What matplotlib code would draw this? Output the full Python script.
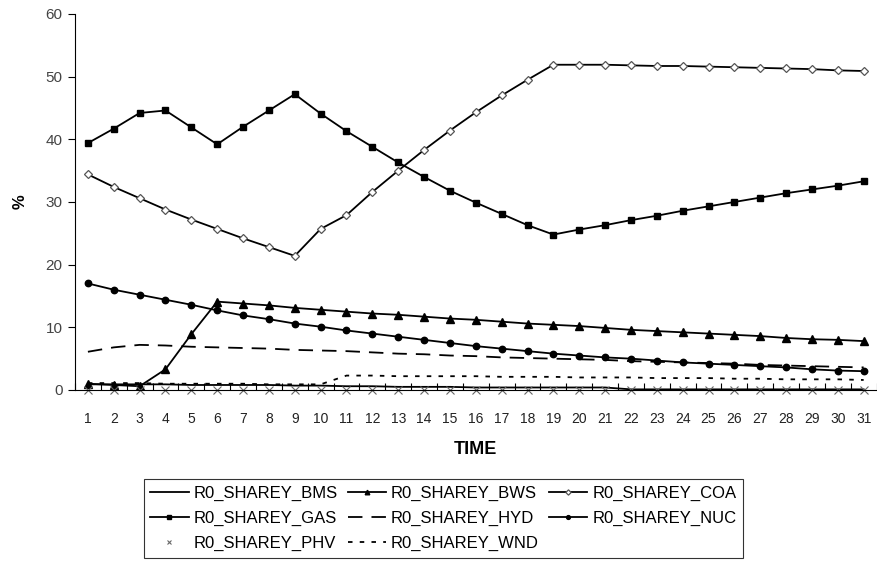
import numpy as np
import matplotlib
matplotlib.use('Agg')
import matplotlib.pyplot as plt

#%% data
time = list(range(1, 32))

bms = [0.9, 0.9, 0.9, 0.9, 0.8, 0.8, 0.8, 0.8, 0.7, 0.7, 0.6, 0.6, 0.5, 0.5, 0.5,
       0.4, 0.4, 0.4, 0.4, 0.4, 0.4, 0.1, 0.1, 0.1, 0.1, 0.1, 0.1, 0.1, 0.1, 0.1, 0.1]
bws = [1.0, 0.8, 0.6, 3.3, 8.9, 14.1, 13.8, 13.5, 13.1, 12.8, 12.5, 12.2, 12.0, 11.7, 11.4,
       11.2, 10.9, 10.6, 10.4, 10.2, 9.9, 9.6, 9.4, 9.2, 9.0, 8.8, 8.6, 8.3, 8.1, 8.0, 7.8]
coa = [34.4, 32.4, 30.6, 28.8, 27.2, 25.7, 24.2, 22.8, 21.4, 25.7, 27.9, 31.6, 35.0, 38.3, 41.4,
       44.3, 47.0, 49.5, 51.9, 51.9, 51.9, 51.8, 51.7, 51.7, 51.6, 51.5, 51.4, 51.3, 51.2, 51.0, 50.9]
gas = [39.4, 41.7, 44.2, 44.6, 41.9, 39.2, 42.0, 44.6, 47.2, 44.1, 41.3, 38.8, 36.3, 34.0, 31.8,
       29.9, 28.1, 26.3, 24.8, 25.6, 26.3, 27.1, 27.8, 28.6, 29.3, 30.0, 30.7, 31.4, 32.0, 32.6, 33.3]
hyd = [6.1, 6.8, 7.2, 7.1, 6.9, 6.8, 6.7, 6.6, 6.4, 6.3, 6.2, 6.0, 5.8, 5.7, 5.5,
       5.4, 5.2, 5.1, 5.0, 4.9, 4.8, 4.6, 4.5, 4.4, 4.3, 4.2, 4.0, 3.9, 3.8, 3.7, 3.6]
nuc = [17.0, 16.0, 15.2, 14.4, 13.6, 12.7, 11.9, 11.3, 10.6, 10.1, 9.5, 9.0, 8.5, 8.0, 7.5,
       7.0, 6.6, 6.2, 5.8, 5.5, 5.2, 5.0, 4.7, 4.4, 4.2, 4.0, 3.8, 3.6, 3.3, 3.1, 3.0]
phv = [0.0] * 31
wnd = [1.1, 1.1, 1.1, 1.0, 1.0, 1.0, 1.0, 0.9, 0.9, 0.9, 2.3, 2.3, 2.2, 2.2, 2.2,
       2.2, 2.1, 2.1, 2.1, 2.0, 2.0, 2.0, 1.9, 1.9, 1.9, 1.8, 1.8, 1.7, 1.7, 1.7, 1.6]

#%% plot
plt.rcParams['font.family'] = ['Liberation Sans', 'DejaVu Sans']

fig = plt.figure(figsize=(8.78, 5.68), dpi=100)
ax = fig.add_axes([0.0854, 0.3134, 0.913, 0.662])

lw = 1.3
h = {}
h['bms'], = ax.plot(time, bms, color='black', lw=lw, label='R0_SHAREY_BMS')
h['bws'], = ax.plot(time, bws, color='black', lw=lw, marker='^', ms=5.5, label='R0_SHAREY_BWS')
h['coa'], = ax.plot(time, coa, color='black', lw=lw, marker='D', ms=4.5, mfc='white',
                    mec='#555555', mew=0.9, label='R0_SHAREY_COA')
h['gas'], = ax.plot(time, gas, color='black', lw=lw, marker='s', ms=4.3, label='R0_SHAREY_GAS')
h['hyd'], = ax.plot(time, hyd, color='black', lw=lw, ls=(0, (8, 5)), label='R0_SHAREY_HYD')
h['nuc'], = ax.plot(time, nuc, color='black', lw=lw, marker='o', ms=4.6, label='R0_SHAREY_NUC')
h['phv'], = ax.plot(time, phv, ls='none', marker='x', ms=5.5, color='#666666', mew=0.8,
                    label='R0_SHAREY_PHV', clip_on=False)
h['wnd'], = ax.plot(time, wnd, color='black', lw=lw, ls=(0, (2.5, 4)), label='R0_SHAREY_WND')

ax.set_xlim(0.5, 31.5)
ax.set_ylim(0, 60)
ax.set_yticks(range(0, 61, 10))
ax.set_xticks(time)
ax.set_xticks(np.arange(0.5, 32, 1), minor=True)
ax.tick_params(axis='x', which='major', length=0, pad=16, labelsize=10, labelcolor='#222222')
ax.tick_params(axis='x', which='minor', length=5, direction='in', width=0.8)
ax.tick_params(axis='y', length=5, width=0.8, labelsize=11, labelcolor='#444444', pad=4)

for s in ['top', 'right']:
    ax.spines[s].set_visible(False)
ax.spines['left'].set_linewidth(0.8)
ax.spines['bottom'].set_linewidth(0.8)

ax.set_xlabel('TIME', fontsize=13, fontweight='bold', labelpad=11)
ax.set_ylabel('%', fontsize=12, fontweight='bold', labelpad=13)

# legend is filled column-wise, so order to read row-wise
order = ['bms', 'gas', 'phv', 'bws', 'hyd', 'wnd', 'coa', 'nuc']
handles = [h[k] for k in order]
leg = fig.legend(handles, [x.get_label() for x in handles],
                 loc='lower center', bbox_to_anchor=(0.505, 0.003), ncol=3, fontsize=12,
                 frameon=True, fancybox=False, edgecolor='black', handlelength=2.3,
                 handletextpad=0.3, columnspacing=0.6, labelspacing=0.6, borderpad=0.4,
                 markerscale=0.6)
leg.get_frame().set_linewidth(0.8)

plt.savefig('out.png', dpi=100)
